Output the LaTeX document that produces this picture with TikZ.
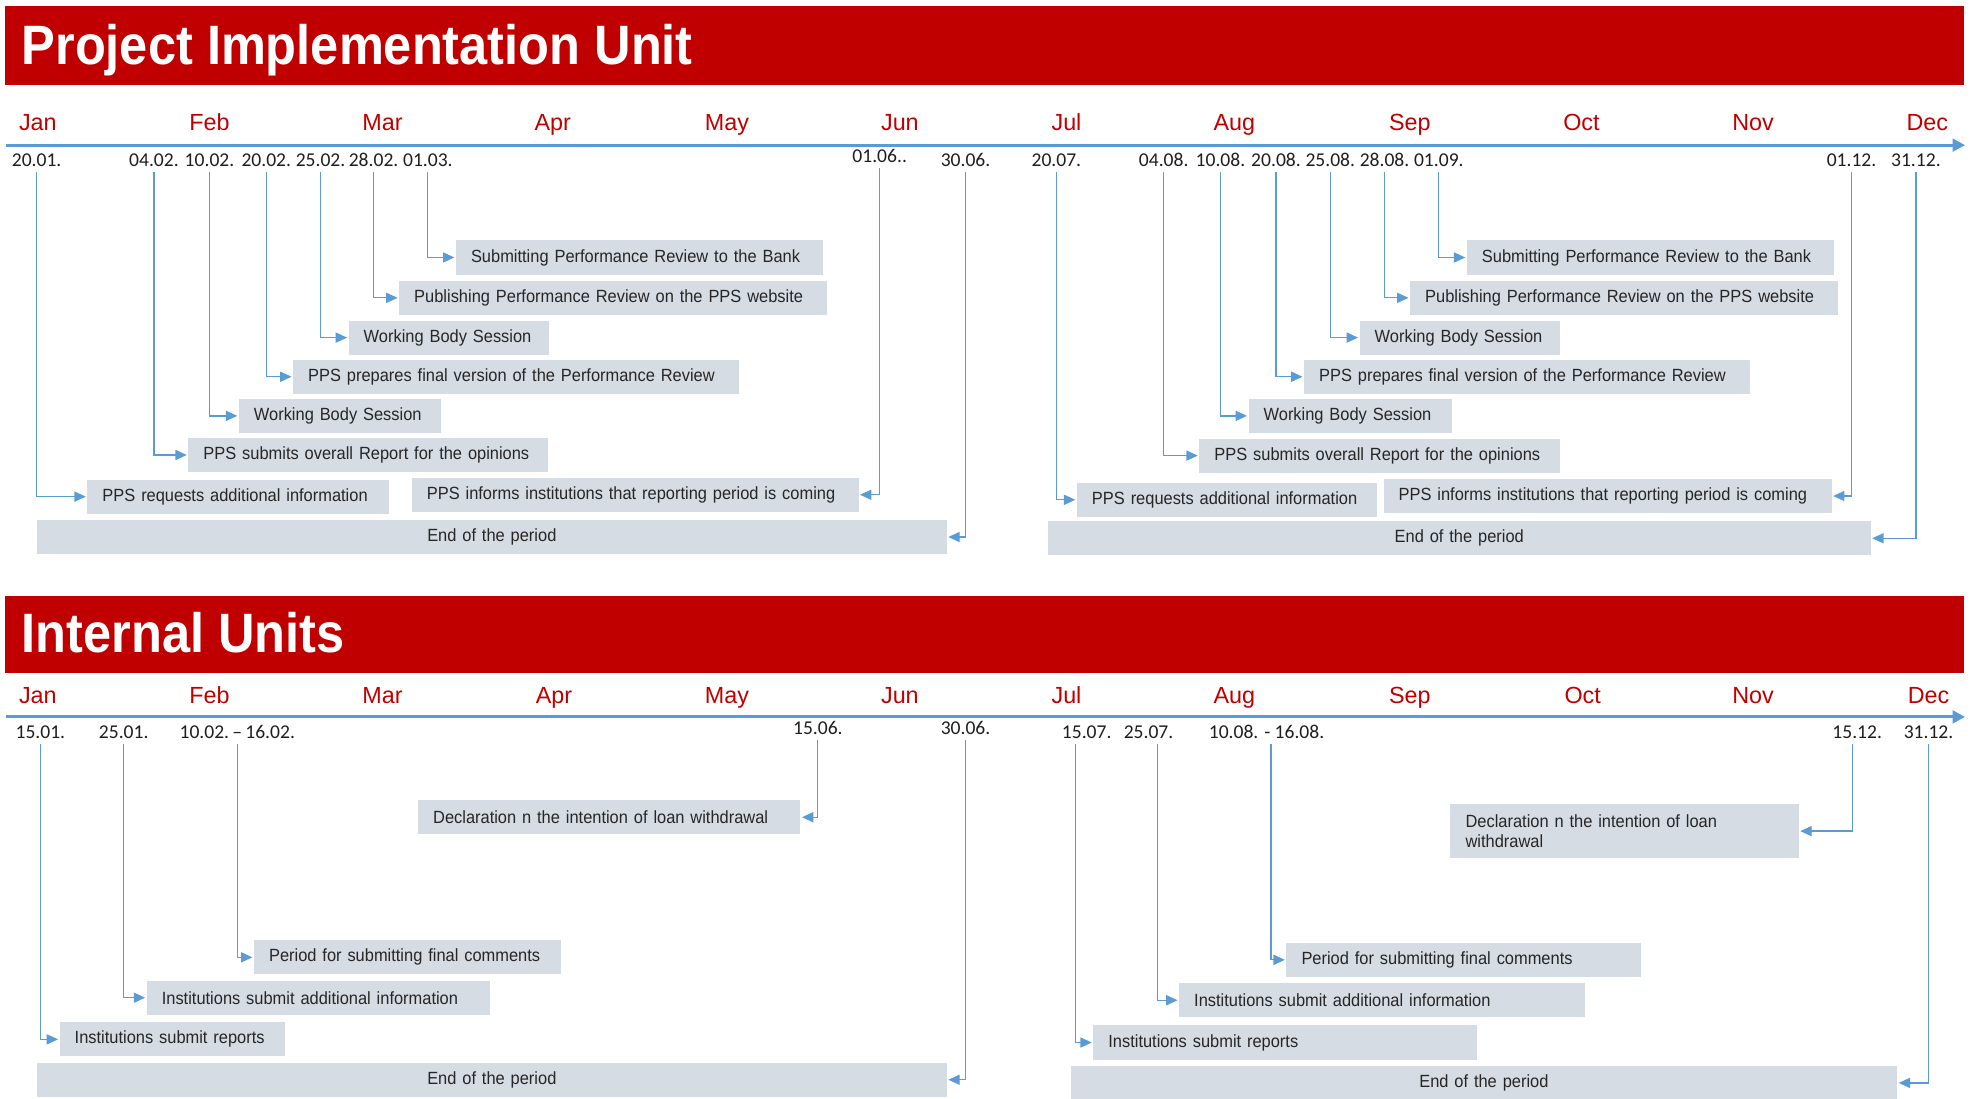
\documentclass[tikz,border=0pt]{standalone}
\usepackage{fontspec}
\setmainfont{Liberation Sans}
\newfontfamily\titlefont{Liberation Sans}[FakeStretch=0.91]
\newfontfamily\boxfont{Liberation Sans}[FakeStretch=0.93]
\newfontfamily\datefont{Carlito}
\usetikzlibrary{arrows.meta}

\definecolor{bannerred}{RGB}{192,0,0}
\definecolor{monthred}{RGB}{192,0,0}
\definecolor{lineblue}{RGB}{91,155,213}
\definecolor{boxfill}{RGB}{214,220,228}
\definecolor{boxtext}{RGB}{38,38,38}
\definecolor{datetext}{RGB}{30,30,30}

\tikzset{
  banner/.style={fill=bannerred, draw=none},
  bannertitle/.style={anchor=base west, inner sep=0pt, text=white,
    font=\titlefont\bfseries\fontsize{44}{48}\selectfont},
  month/.style={anchor=base, inner sep=0pt, text=monthred,
    font=\fontsize{18.5}{20}\selectfont},
  datelabel/.style={anchor=base, inner sep=0pt, text=datetext,
    font=\datefont\fontsize{15.5}{17}\selectfont},
  taskbox/.style={fill=boxfill, draw=none, anchor=west, inner xsep=12pt,
    inner ysep=0pt, minimum height=27pt, align=left, text=boxtext,
    font=\boxfont\fontsize{14}{16}\selectfont},
  axisline/.style={draw=lineblue, line width=2.5pt,
    -{Triangle[length=10pt,width=10pt]}},
  conn/.style={draw=lineblue, line width=1pt, shorten <=4pt, shorten >=1pt,
    -{Triangle[length=9pt,width=8pt]}}
}

% task box: [options] name, left x, right x, centre y, text
\newcommand\taskbox[6][]{%
  \pgfmathsetmacro\tbtw{#4-#3-24}%
  \node[taskbox, text width=\tbtw pt, #1] (#2) at (#3,#5) {\mbox{#6}};}

\begin{document}
\begin{tikzpicture}[x=1pt, y=-1pt]
\useasboundingbox (0,0) rectangle (1568,870);

% ---------------- Project Implementation Unit ----------------
\fill[banner] (4,5) rectangle (1556,67);
\node[bannertitle] (pititle) at (17,51) {Project Implementation Unit};

\foreach \m/\x in {Jan/30, Feb/166, Mar/303, Apr/438, May/576, Jun/713,
                   Jul/845, Aug/978, Sep/1117, Oct/1253, Nov/1389, Dec/1527}
  \node[month] (pm\m) at (\x,103) {\m};

\coordinate (pax1) at (5,115);
\coordinate (pax2) at (1557,115);
\draw[axisline] (pax1) -- (pax2);

% dates, first half
\node[datelabel] (t2001) at (29,132) {20.01.};
\node[datelabel] (t0402) at (122,132) {04.02.};
\node[datelabel] (t1002) at (166,132) {10.02.};
\node[datelabel] (t2002) at (211,132) {20.02.};
\node[datelabel] (t2502) at (254,132) {25.02.};
\node[datelabel] (t2802) at (296,132) {28.02.};
\node[datelabel] (t0103) at (339,132) {01.03.};
\node[datelabel] (t0106) at (697,129) {01.06..};
\node[datelabel] (t3006) at (765,132) {30.06.};

% dates, second half
\node[datelabel] (t2007) at (837,132) {20.07.};
\node[datelabel] (t0408) at (922,132) {04.08.};
\node[datelabel] (t1008) at (967,132) {10.08.};
\node[datelabel] (t2008) at (1011,132) {20.08.};
\node[datelabel] (t2508) at (1054,132) {25.08.};
\node[datelabel] (t2808) at (1097,132) {28.08.};
\node[datelabel] (t0109) at (1140,132) {01.09.};
\node[datelabel] (t0112) at (1467,132) {01.12.};
\node[datelabel] (t3112) at (1518,132) {31.12.};

% tasks, first half
\taskbox{a1}{361}{652}{204}{Submitting Performance Review to the Bank}
\taskbox{a2}{316}{655}{236}{Publishing Performance Review on the PPS website}
\taskbox{a3}{276}{435}{267.5}{Working Body Session}
\taskbox{a4}{232}{585}{298.5}{PPS prepares final version of the Performance Review}
\taskbox{a5}{189}{349}{329.5}{Working Body Session}
\taskbox{a6}{149}{434}{360.5}{PPS submits overall Report for the opinions}
\taskbox{a7}{69}{308}{393.5}{PPS requests additional information}
\taskbox{a8}{326}{680}{392}{PPS informs institutions that reporting period is coming}
\taskbox[align=center]{a9}{29}{750}{425.5}{End of the period}

% tasks, second half
\taskbox{b1}{1162}{1453}{204}{Submitting Performance Review to the Bank}
\taskbox{b2}{1117}{1456}{236}{Publishing Performance Review on the PPS website}
\taskbox{b3}{1077}{1236}{267.5}{Working Body Session}
\taskbox{b4}{1033}{1386}{298.5}{PPS prepares final version of the Performance Review}
\taskbox{b5}{989}{1150}{329.5}{Working Body Session}
\taskbox{b6}{950}{1236}{361}{PPS submits overall Report for the opinions}
\taskbox{b7}{853}{1091}{396}{PPS requests additional information}
\taskbox{b8}{1096}{1451}{393}{PPS informs institutions that reporting period is coming}
\taskbox[align=center]{b9}{830}{1482}{426.5}{End of the period}

% connectors
\draw[conn] (t2001.south) |- (a7.west);
\draw[conn] (t0402.south) |- (a6.west);
\draw[conn] (t1002.south) |- (a5.west);
\draw[conn] (t2002.south) |- (a4.west);
\draw[conn] (t2502.south) |- (a3.west);
\draw[conn] (t2802.south) |- (a2.west);
\draw[conn] (t0103.south) |- (a1.west);
\draw[conn] (t0106.south) |- (a8.east);
\draw[conn] (t3006.south) |- (a9.east);

\draw[conn] (t2007.south) |- (b7.west);
\draw[conn] (t0408.south) |- (b6.west);
\draw[conn] (t1008.south) |- (b5.west);
\draw[conn] (t2008.south) |- (b4.west);
\draw[conn] (t2508.south) |- (b3.west);
\draw[conn] (t2808.south) |- (b2.west);
\draw[conn] (t0109.south) |- (b1.west);
\draw[conn] (t0112.south) |- (b8.east);
\draw[conn] (t3112.south) |- (b9.east);

% ---------------- Internal Units ----------------
\fill[banner] (4,472) rectangle (1556,533);
\node[bannertitle] (iutitle) at (17,517) {Internal Units};

\foreach \m/\x in {Jan/30, Feb/166, Mar/303, Apr/439, May/576, Jun/713,
                   Jul/845, Aug/978, Sep/1117, Oct/1254, Nov/1389, Dec/1528}
  \node[month] (im\m) at (\x,557) {\m};

\coordinate (iax1) at (5,568);
\coordinate (iax2) at (1557,568);
\draw[axisline] (iax1) -- (iax2);

\node[datelabel] (u1501) at (32,585) {15.01.};
\node[datelabel] (u2501) at (98,585) {25.01.};
\node[datelabel] (u1002) at (188,585) {10.02.\,–\,16.02.};
\node[datelabel] (u1506) at (648,582) {15.06.};
\node[datelabel] (u3006) at (765,582) {30.06.};
\node[datelabel] (u1507) at (861,585) {15.07.};
\node[datelabel] (u2507) at (910,585) {25.07.};
\node[datelabel] (u1008) at (1003.5,585) {10.08. - 16.08.};
\node[datelabel] (u1512) at (1471.5,585) {15.12.};
\node[datelabel] (u3112) at (1528,585) {31.12.};

\taskbox{c1}{331}{634}{647.5}{Declaration n the intention of loan withdrawal}
\taskbox{c2}{201}{444}{758.5}{Period for submitting final comments}
\taskbox{c3}{116}{388}{790.5}{Institutions submit additional information}
\taskbox{c4}{47}{226}{823.5}{Institutions submit reports}
\taskbox[align=center]{c5}{29}{750}{855.5}{End of the period}

\node[taskbox, text width=252pt, minimum height=43pt] (d1) at (1149,658.5)
  {Declaration n the intention of loan\\withdrawal};
\taskbox{d2}{1019}{1300}{760.5}{Period for submitting final comments}
\taskbox{d3}{934}{1256}{792.5}{Institutions submit additional information}
\taskbox{d4}{866}{1170}{826}{Institutions submit reports}
\taskbox[align=center]{d5}{848}{1503}{858}{End of the period}

\draw[conn] (u1501.south) |- (c4.west);
\draw[conn] (u2501.south) |- (c3.west);
\draw[conn] (u1002.south) |- (c2.west);
\draw[conn] (u1506.south) |- (c1.east);
\draw[conn] (u3006.south) |- (c5.east);
\draw[conn] ([xshift=-9pt]u1507.south) |- (d4.west);
\draw[conn] ([xshift=7pt]u2507.south) |- (d3.west);
\draw[conn] ([xshift=3.5pt]u1008.south) |- (d2.west);
\draw[conn] ([xshift=-3.5pt]u1512.south) |- (d1.east);
\draw[conn] (u3112.south) |- (d5.east);
\end{tikzpicture}
\end{document}
